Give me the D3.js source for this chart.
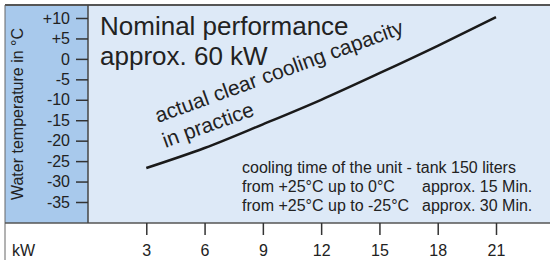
<!DOCTYPE html>
<html>
<head>
<meta charset="utf-8">
<script src="https://cdn.jsdelivr.net/npm/d3@7"></script>
<style>
  body { margin: 0; background: #fff; }
  svg { display: block; font-family: "Liberation Sans", Arial, sans-serif; }
  .axis text { font-size: 16px; fill: #222; font-family: "Liberation Sans", Arial, sans-serif; }
  .axis line { stroke: #333; stroke-width: 1.5; }
</style>
</head>
<body>
<div id="chart"></div>
<script>
// datos
const kwTicks = [3, 6, 9, 12, 15, 18, 21];
const tempTicks = [10, 5, 0, -5, -10, -15, -20, -25, -30, -35];

// curva de capacidad real (kW -> temperatura del agua)
const curveKw = [3, 6, 9, 12, 15, 18, 21];
const curveTemp = [-26.7, -21.8, -16, -10, -3.5, 3.2, 10.2];

const titleLines = ["Nominal performance", "approx. 60 kW"];
const curveLabel = ["actual clear cooling capacity", "in practice"];
const noteHead = "cooling time of the unit - tank 150 liters";
const noteFrom = ["from +25°C up to 0°C", "from +25°C up to -25°C"];
const noteTime = ["approx. 15 Min.", "approx. 30 Min."];

var width = 550, height = 260;
var frameLeft = 5, frameTop = 5, panelX = 88, panelBottom = 223;

var svg = d3.select('#chart')
  .append('svg')
  .attr('width', width)
  .attr('height', height);

// escalas
var x = d3.scaleLinear().domain([0, 21]).range([panelX, 496]);
var y = d3.scaleLinear().domain([-35, 10]).range([202, 18]);

// fondos
svg.append('rect')
  .attr('x', panelX).attr('y', frameTop)
  .attr('width', width - panelX).attr('height', panelBottom - frameTop)
  .attr('fill', '#dde9f7');

svg.append('rect')
  .attr('x', frameLeft).attr('y', frameTop)
  .attr('width', panelX - frameLeft).attr('height', panelBottom - frameTop)
  .attr('fill', '#a8c9ec');

// bordes
svg.append('line')
  .attr('x1', frameLeft).attr('x2', width).attr('y1', frameTop).attr('y2', frameTop)
  .attr('stroke', '#555').attr('stroke-width', 2);
svg.append('line')
  .attr('x1', frameLeft).attr('x2', frameLeft).attr('y1', frameTop).attr('y2', height)
  .attr('stroke', '#666').attr('stroke-width', 1);
svg.append('line')
  .attr('x1', frameLeft).attr('x2', width).attr('y1', panelBottom).attr('y2', panelBottom)
  .attr('stroke', '#555').attr('stroke-width', 1.5);
svg.append('line')
  .attr('x1', panelX).attr('x2', panelX).attr('y1', frameTop).attr('y2', panelBottom)
  .attr('stroke', '#444').attr('stroke-width', 1.5);

// ejes
var yAxis = d3.axisLeft(y)
  .tickValues(tempTicks)
  .tickSize(12)
  .tickPadding(6)
  .tickFormat(d => d > 0 ? '+' + d : String(d));

svg.append('g')
  .attr('class', 'axis')
  .attr('transform', `translate(${panelX},0)`)
  .call(yAxis)
  .call(g => g.select('.domain').remove());

var xAxis = d3.axisBottom(x)
  .tickValues(kwTicks)
  .tickSize(12)
  .tickPadding(10)
  .tickFormat(d => d);

svg.append('g')
  .attr('class', 'axis')
  .attr('transform', `translate(0,${panelBottom})`)
  .call(xAxis)
  .call(g => g.select('.domain').remove());

svg.append('text')
  .attr('x', 12).attr('y', 256)
  .attr('font-size', 16).attr('fill', '#222')
  .text('kW');

// título del eje y
svg.append('text')
  .attr('transform', 'translate(23,114) rotate(-90)')
  .attr('text-anchor', 'middle')
  .attr('font-size', 16).attr('fill', '#222')
  .text('Water temperature in °C');

// curva
var line = d3.line()
  .x(d => x(d[0]))
  .y(d => y(d[1]))
  .curve(d3.curveMonotoneX);

svg.append('path')
  .datum(d3.zip(curveKw, curveTemp))
  .attr('d', line)
  .attr('fill', 'none')
  .attr('stroke', '#1a1a1a')
  .attr('stroke-width', 2.5);

// título
svg.append('g').selectAll('text')
  .data(titleLines)
  .enter()
  .append('text')
  .attr('x', 100)
  .attr('y', (d, i) => 35 + i * 30)
  .attr('font-size', 26)
  .attr('fill', '#222')
  .text(d => d);

// etiqueta de la curva
var lbl = svg.append('text')
  .attr('transform', 'translate(158,123) rotate(-20)')
  .attr('font-size', 21)
  .attr('fill', '#222');
lbl.selectAll('tspan')
  .data(curveLabel)
  .enter()
  .append('tspan')
  .attr('x', (d, i) => i * -1.5)
  .attr('y', (d, i) => i * 26)
  .text(d => d);

// nota
var note = svg.append('g')
  .attr('font-size', 16)
  .attr('fill', '#222');
note.append('text').attr('x', 242).attr('y', 173).text(noteHead);
note.selectAll('.from')
  .data(noteFrom).enter().append('text')
  .attr('class', 'from')
  .attr('x', 242).attr('y', (d, i) => 192 + i * 19)
  .text(d => d);
note.selectAll('.time')
  .data(noteTime).enter().append('text')
  .attr('class', 'time')
  .attr('x', 422).attr('y', (d, i) => 192 + i * 19)
  .text(d => d);
</script>
</body>
</html>
